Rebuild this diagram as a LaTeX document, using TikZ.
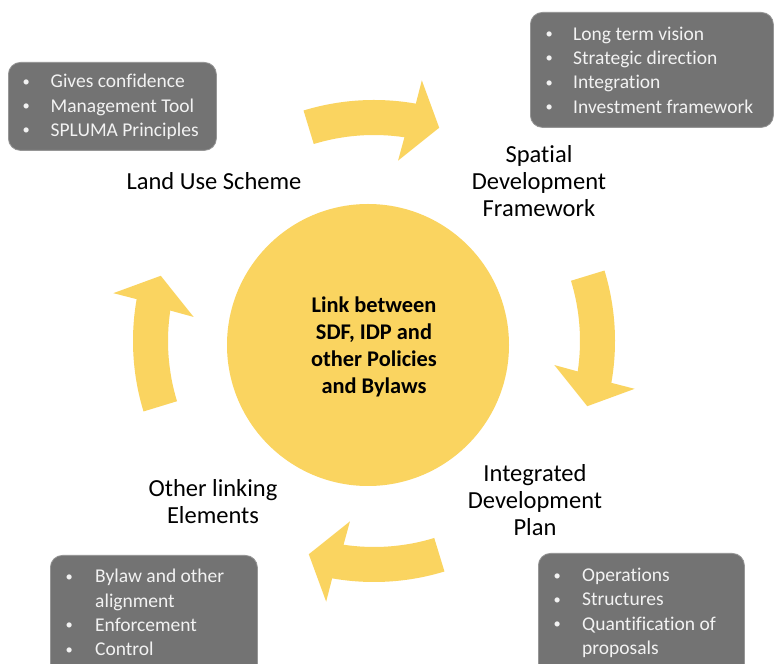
\documentclass[tikz,border=0pt]{standalone}
\usepackage{fontspec}
\setmainfont{Carlito}[Ligatures={NoCommon}]
\definecolor{yel}{RGB}{250,212,96}
\definecolor{boxgray}{RGB}{115,115,115}
\definecolor{boxedge}{RGB}{150,150,150}
\definecolor{boxtext}{RGB}{242,242,242}
\newcommand{\bul}{\makebox[0pt]{\raisebox{1.5pt}{\fontsize{14.5}{14.5}\selectfont•}}}
\begin{document}
\begin{tikzpicture}[x=1pt,y=1pt,
  lbl/.style={align=center,font=\fontsize{24.5}{27}\selectfont,text=black,inner sep=0},
  infobox/.style={rounded corners=12pt, fill=boxgray, draw=boxedge, line width=0.8pt, anchor=north west, inner sep=0},
  infotext/.style={align=left, anchor=west, inner sep=0, text=boxtext, font=\fontsize{19.5}{24.3}\selectfont},
  ringarrow/.style={fill=yel}]
\clip (0,0) rectangle (774,664);
\fill[white] (0,0) rectangle (774,664);
% curved arrows
\begin{scope}[shift={(374,323)}]
\foreach \t in {107,17,-73,197}{
  \pgfmathsetmacro{\ta}{\t-27}
  \pgfmathsetmacro{\tb}{\t-27.4}
  \pgfmathsetmacro{\tc}{\t-34}
  \pgfmathsetmacro{\td}{\t-24.6}
  \pgfmathsetmacro{\te}{\t-25.5}
  \fill[ringarrow] (\t:241pt) arc[start angle=\t, end angle=\ta, radius=241pt]
    -- (\tb:265pt) -- (\tc:223pt) -- (\td:182pt) -- (\te:206pt)
    arc[start angle=\te, end angle=\t, radius=206pt] -- cycle;
}
\end{scope}
% central circle
\node[circle, fill=yel, minimum size=282pt, inner sep=0] (hub) at (368,319) {};
\node[align=center, inner sep=0, font=\bfseries\fontsize{22.4}{27}\selectfont] (hubtext) at (374,317)
  {Link between\\SDF, IDP and\\other Policies\\and Bylaws};
% labels
\node[lbl] (lus) at (214,483) {Land Use Scheme};
\node[lbl] (sdf) at (539,483) {Spatial\\Development\\Framework};
\node[lbl] (idp) at (535,164) {Integrated\\Development\\Plan};
\node[lbl] (ole) at (213,162) {Other linking\\Elements};
% info boxes
\node[infobox, minimum width=208pt, minimum height=88pt] (b1) at (8,602) {};
\node[infotext] (t1) at (26,557) {\bul\hspace{24.5pt}Gives confidence\\
  \bul\hspace{24.5pt}Management Tool\\
  \bul\hspace{24.5pt}SPLUMA Principles};
\node[infobox, minimum width=243pt, minimum height=115pt] (b2) at (530,652) {};
\node[infotext] (t2) at (549,594) {\bul\hspace{24pt}Long term vision\\
  \bul\hspace{24pt}Strategic direction\\
  \bul\hspace{24pt}Integration\\
  \bul\hspace{24pt}Investment framework};
\node[infobox, minimum width=207pt, minimum height=130pt] (b3) at (50,109) {};
\node[infotext] (t3) at (69,51.5) {\bul\hspace{26pt}Bylaw and other\\
  \hspace{26pt}alignment\\
  \bul\hspace{26pt}Enforcement\\
  \bul\hspace{26pt}Control};
\node[infobox, minimum width=206pt, minimum height=130pt] (b4) at (538,111) {};
\node[infotext] (t4) at (557,51) {\bul\hspace{25pt}Operations\\
  \bul\hspace{25pt}Structures\\
  \bul\hspace{25pt}Quantification of\\
  \hspace{25pt}proposals};
\end{tikzpicture}
\end{document}
